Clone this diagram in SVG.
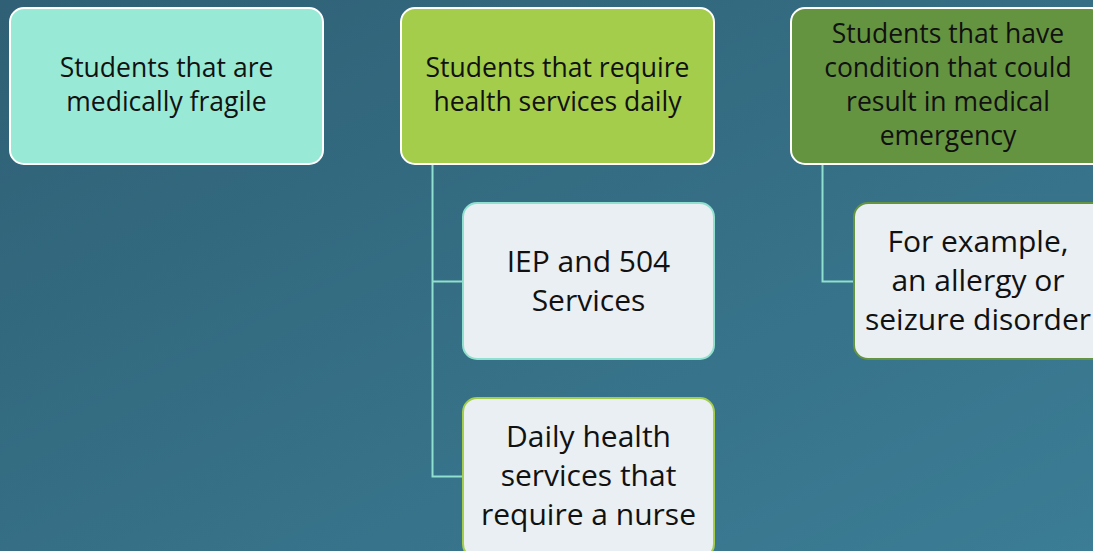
<svg xmlns="http://www.w3.org/2000/svg" width="1093" height="551" viewBox="0 0 1093 551">
<defs>
<linearGradient id="bg" x1="0" y1="0" x2="1" y2="1">
<stop offset="0" stop-color="#2F6075"/>
<stop offset="1" stop-color="#3B7D95"/>
</linearGradient>
</defs>
<style>
.top{stroke:#FFFFFF;stroke-width:2}
.child{fill:#E9EFF3;stroke-width:2}
.t{font-family:"Open Sans",Lato,"Liberation Sans",sans-serif;fill:#111;text-anchor:middle}
.s{font-size:26.5px}
.l{font-size:30px}
.conn{fill:none;stroke:#8FE0CE;stroke-width:2}
</style>
<rect width="1093" height="551" fill="url(#bg)"/>
<g id="connectors">
<path class="conn" d="M432.5 164 V476.5 H463 M432.5 281.5 H463"/>
<path class="conn" d="M822.5 164 V281.5 H854"/>
</g>
<g id="n1">
<rect class="top" x="10" y="8" width="313" height="156" rx="14" fill="#98E9D6"/>
<text class="t s" x="166.5" y="77">Students that are</text>
<text class="t s" x="166.5" y="111">medically fragile</text>
</g>
<g id="n2">
<rect class="top" x="401" y="8" width="313" height="156" rx="14" fill="#A3CD4B"/>
<text class="t s" x="557.5" y="77">Students that require</text>
<text class="t s" x="557.5" y="111">health services daily</text>
</g>
<g id="n3">
<rect class="top" x="791" y="8" width="314" height="156" rx="14" fill="#659441"/>
<text class="t s" x="948" y="43">Students that have</text>
<text class="t s" x="948" y="77">condition that could</text>
<text class="t s" x="948" y="111">result in medical</text>
<text class="t s" x="948" y="145">emergency</text>
</g>
<g id="c1">
<rect class="child" x="463" y="203" width="251" height="156" rx="14" stroke="#8FE0CE"/>
<text class="t l" x="588.5" y="272">IEP and 504</text>
<text class="t l" x="588.5" y="311">Services</text>
</g>
<g id="c2">
<rect class="child" x="463" y="398" width="251" height="160" rx="14" stroke="#A3CD4B"/>
<text class="t l" x="588.5" y="447">Daily health</text>
<text class="t l" x="588.5" y="486">services that</text>
<text class="t l" x="588.5" y="525">require a nurse</text>
</g>
<g id="c3">
<rect class="child" x="854" y="203" width="252" height="156" rx="14" stroke="#659441"/>
<text class="t l" x="978" y="252">For example,</text>
<text class="t l" x="978" y="291">an allergy or</text>
<text class="t l" x="978" y="330">seizure disorder</text>
</g>
</svg>
